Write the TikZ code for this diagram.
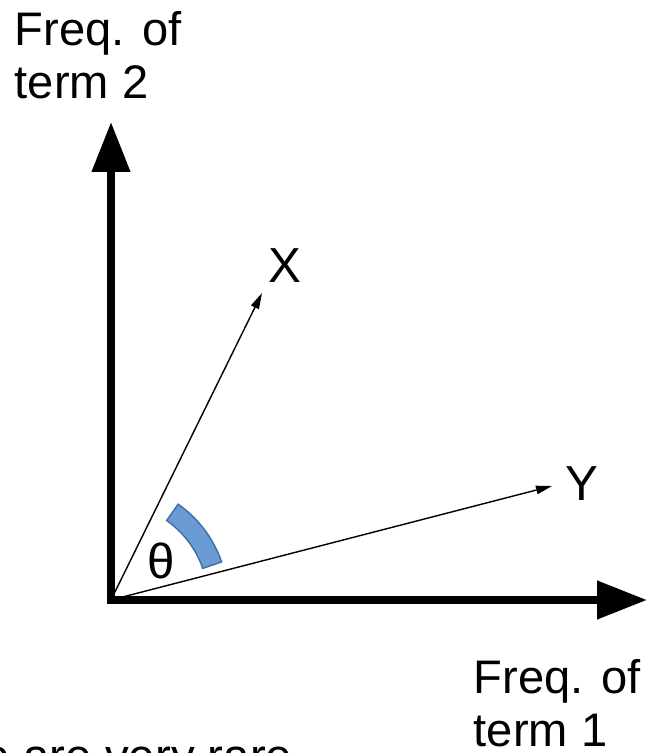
\documentclass[tikz,border=0pt]{standalone}
\usepackage{fontspec}
\setmainfont{Liberation Sans}
\usepackage{xcolor}
\usetikzlibrary{arrows.meta,positioning}
\definecolor{bandFill}{HTML}{6A9BD3}
\definecolor{bandEdge}{HTML}{3F6FA8}
\tikzset{
  % Thick axes with large heads
  axis/.style={line width=4.3pt,line join=miter,
    {Triangle[length=1.0cm,width=0.74cm]}-{Triangle[length=1.0cm,width=0.74cm]}},
  % Thin document vectors
  vec/.style={-{Triangle[length=0.32cm,width=0.17cm]},line width=0.8pt},
  % Axis labels (two lines)
  albl/.style={font=\fontsize{26.8}{30}\selectfont,align=left,
    inner sep=0pt,anchor=north west},
  % Vector and angle labels
  vlbl/.style={font=\fontsize{28}{34}\selectfont,inner sep=0pt},
  % Angle band
  band/.style={fill=bandFill,draw=bandEdge,line width=0.8pt},
}

\begin{document}
\begin{tikzpicture}
  \useasboundingbox (0,0) rectangle (13.14,15.06);
  \coordinate (O) at (2.22,3.06);
  \coordinate (t2) at (2.22,12.62);
  \coordinate (t1) at (12.94,3.06);
  \coordinate (vx) at (5.24,9.2);
  \coordinate (vy) at (11.04,5.34);

  % Axes
  \draw[axis] (t2) -- (O) -- (t1);
  \node[albl] (t2lbl) at (0.29,14.84) {Freq. of\\term 2};
  \node[albl] (t1lbl) at (9.47,1.88) {Freq. of\\term 1};

  % Angle between the vectors
  \draw[band] (O) ++(19:1.94) arc[start angle=19,end angle=55,radius=1.94]
    -- ++(55:0.40) arc[start angle=55,end angle=19,radius=2.34] -- cycle;
  \node[vlbl] (theta) at (3.22,3.84) {θ};

  % Vectors
  \draw[vec] (O) -- (vx);
  \draw[vec] (O) -- (vy);
  \node[vlbl] (xlbl) at (5.70,9.74) {X};
  \node[vlbl] (ylbl) at (11.64,5.38) {Y};

  \node[vlbl,font=\fontsize{27}{32}\selectfont,anchor=base west]
    (note) at (-0.33,-0.38) {e are very rare};
\end{tikzpicture}
\end{document}
